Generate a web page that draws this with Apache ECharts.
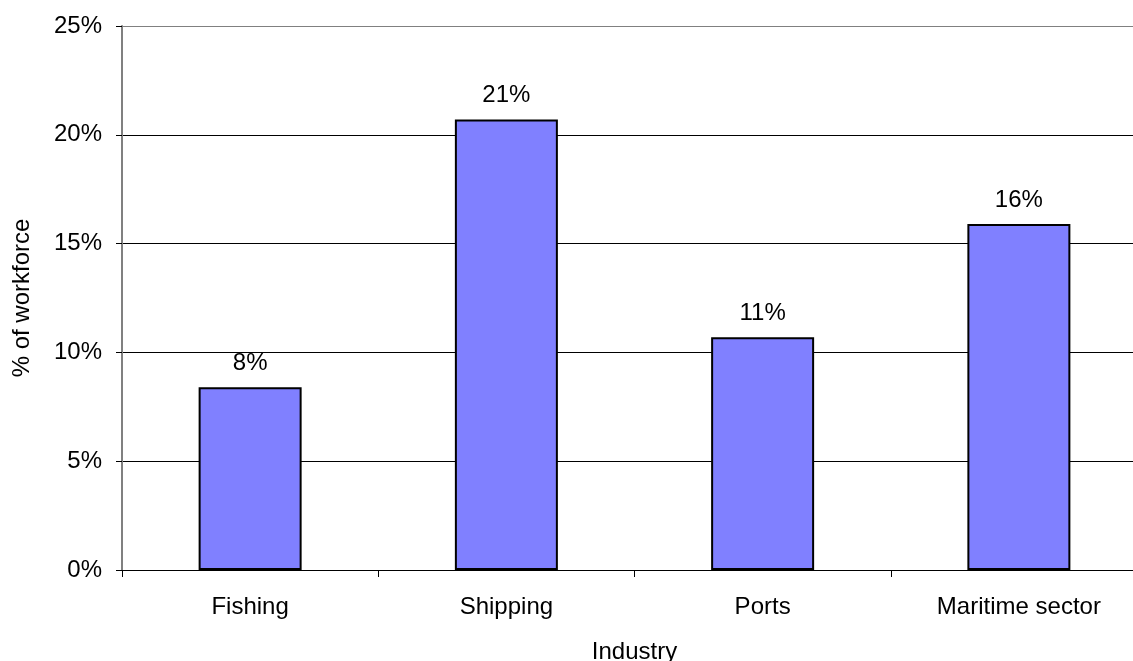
<!DOCTYPE html>
<html>
<head>
<meta charset="utf-8">
<script src="https://cdn.jsdelivr.net/npm/echarts@6/dist/echarts.min.js"></script>
<style>
  html, body { margin: 0; padding: 0; background: #fff; }
  #chart { width: 1133px; height: 661px; }
</style>
</head>
<body>
<div id="chart"></div>
<script>
// Share of workforce by industry (percent)
const industries = ['Fishing', 'Shipping', 'Ports', 'Maritime sector'];
const workforceShare = [8.4, 20.7, 10.7, 15.9];
const yTicks = [0, 5, 10, 15, 20, 25];

const FONT = '"Liberation Sans", Arial, sans-serif';
const FONT_SIZE = 24;

const chart = echarts.init(document.getElementById('chart'));
chart.setOption({
  animation: false,
  backgroundColor: '#ffffff',
  textStyle: { fontFamily: FONT },
  // plot area runs slightly past the right edge of the canvas
  grid: { left: 122, right: -14, top: 26, bottom: 91, containLabel: false, outerBoundsMode: 'none' },
  xAxis: {
    type: 'category',
    data: industries,
    name: 'Industry',
    nameLocation: 'middle',
    nameGap: 70,
    nameTextStyle: { fontFamily: FONT, fontSize: FONT_SIZE, color: '#000' },
    axisLine: { show: true, lineStyle: { color: '#000', width: 1 } },
    axisTick: { show: true, length: 7, lineStyle: { color: '#000' } },
    axisLabel: { fontFamily: FONT, fontSize: FONT_SIZE, color: '#000', margin: 25 },
    splitLine: { show: false }
  },
  yAxis: {
    type: 'value',
    min: yTicks[0],
    max: yTicks[yTicks.length - 1],
    interval: yTicks[1] - yTicks[0],
    name: '% of workforce',
    nameLocation: 'middle',
    nameGap: 88,
    nameTextStyle: { fontFamily: FONT, fontSize: FONT_SIZE, color: '#000' },
    axisLine: { show: true, lineStyle: { color: '#808080', width: 2 } },
    axisTick: { show: true, length: 6, lineStyle: { color: '#000' } },
    axisLabel: { fontFamily: FONT, fontSize: FONT_SIZE, color: '#000', margin: 20, formatter: '{value}%' },
    splitLine: {
      show: true,
      lineStyle: { color: ['#000', '#000', '#000', '#000', '#000', '#808080'], width: 1 }
    }
  },
  series: [{
    type: 'bar',
    data: workforceShare,
    barWidth: 103,
    itemStyle: { color: '#8080FF', borderColor: '#000', borderWidth: 2 },
    label: {
      show: true,
      position: 'top',
      distance: 12,
      fontFamily: FONT,
      fontSize: FONT_SIZE,
      color: '#000',
      formatter: p => Math.round(p.value) + '%'
    }
  }]
});
</script>
</body>
</html>
